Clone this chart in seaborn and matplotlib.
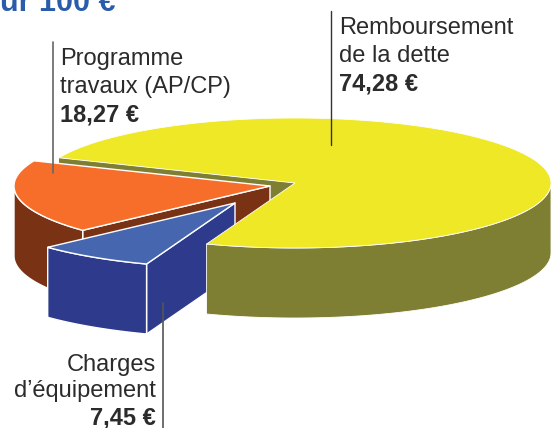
import numpy as np
import pandas as pd
import matplotlib
matplotlib.use("Agg")
import matplotlib.pyplot as plt
import seaborn as sns

# Data
categories = ["Remboursement de la dette", "Charges d'équipement", "Programme travaux (AP/CP)"]
values = [74.28, 7.45, 18.27]
top_colors = ["#EFE827", "#4666AF", "#F76E2A"]
side_colors = ["#7F7F33", "#2E3B8C", "#7A3214"]

# Geometry (pixels)
W, H = 551, 428
CX, CY = 295, 183
RX, RY = 256, 65
DEPTH = 70
START = 157.2
offsets = {"Remboursement de la dette": (0, 0),
           "Charges d'équipement": (-60, 20),
           "Programme travaux (AP/CP)": (-25, 3)}

sns.set_theme(style="white")
plt.rcParams["font.family"] = ["Liberation Sans", "DejaVu Sans"]

df = pd.DataFrame({"cat": categories, "value": values, "top": top_colors, "side": side_colors})
df["sweep"] = df["value"] / df["value"].sum() * 360
df["a0"] = START - df["sweep"].cumsum().shift(fill_value=0)
df["a1"] = df["a0"] - df["sweep"]

fig = plt.figure(figsize=(W / 100, H / 100), dpi=100)
ax = fig.add_axes([0, 0, 1, 1])
ax.set_xlim(0, W)
ax.set_ylim(H, 0)
ax.axis("off")


def pt(a, ox, oy, dz=0):
    t = np.radians(a)
    return CX + ox + RX * np.cos(t), CY + oy - RY * np.sin(t) + dz


def arc(a0, a1, ox, oy, dz=0):
    t = np.linspace(a0, a1, 200)
    return pt(t, ox, oy, dz)


def draw_cut(row, z, edge, lw):
    ox, oy = offsets[row["cat"]]
    apex = (CX + ox, CY + oy)
    x, y = pt(row["a0"], ox, oy)
    ax.fill([apex[0], x, x, apex[0]],
            [apex[1], y, y + DEPTH, apex[1] + DEPTH],
            facecolor=row["side"], edgecolor=edge, lw=lw, zorder=z, joinstyle="round")


def draw_body(row, z, edge, lw):
    ox, oy = offsets[row["cat"]]
    a0, a1 = row["a0"], row["a1"]
    apex = (CX + ox, CY + oy)
    # outer wall: only the part facing the viewer (bottom half of the ellipse)
    lo, hi = a1 % 360, a0 % 360
    if hi <= lo:
        hi += 360
    s0, s1 = max(lo, 180), min(hi, 360)
    if s1 > s0:
        xa, ya = arc(s0, s1, ox, oy)
        xb, yb = arc(s1, s0, ox, oy, DEPTH)
        ax.fill(np.r_[xa, xb], np.r_[ya, yb], facecolor=row["side"],
                edgecolor=edge, lw=lw, zorder=z)
    # top face
    xa, ya = arc(a0, a1, ox, oy)
    ax.fill(np.r_[apex[0], xa], np.r_[apex[1], ya], facecolor=row["top"],
            edgecolor=edge, lw=lw, zorder=z + 0.2, joinstyle="round")


rows = {r["cat"]: r for _, r in df.iterrows()}
yellow = rows["Remboursement de la dette"]
orange = rows["Programme travaux (AP/CP)"]
blue = rows["Charges d'équipement"]

# yellow's cut face lies behind everything; its wall and top lie in front
draw_cut(yellow, 1, "none", 0)
draw_cut(orange, 2, "white", 1.0)
draw_body(orange, 2.2, "white", 1.0)
draw_cut(blue, 3, "white", 1.0)
draw_body(blue, 3.2, "white", 1.0)
draw_body(yellow, 4, "white", 0.6)

# leader lines
ax.plot([53, 53], [42, 173], color="#666666", lw=1.2, zorder=6)
ax.plot([331, 331], [11, 145], color="#333333", lw=1.0, zorder=6)
ax.plot([162.7, 162.7], [303, 428], color="#555555", lw=1.2, zorder=6)

# text
ink = "#2b2b2b"
fs = 17
tx = dict(color=ink, fontsize=fs, va="baseline", zorder=7)
ax.text(60, 65, "Programme", **tx)
ax.text(60, 93, "travaux (AP/CP)", **tx)
ax.text(60, 121, "18,27 €", fontweight="bold", **tx)
ax.text(339, 34, "Remboursement", **tx)
ax.text(339, 62, "de la dette", **tx)
ax.text(339, 90, "74,28 €", fontweight="bold", **tx)
ax.text(156, 371, "Charges", ha="right", **tx)
ax.text(156, 397, "d’équipement", ha="right", **tx)
ax.text(156, 424, "7,45 €", ha="right", fontweight="bold", **tx)
ax.text(0, 11, "ur 100 €", color="#2A5CAA", fontsize=22, fontweight="bold", va="baseline", zorder=7)

fig.savefig("out.png", dpi=100, facecolor="white")
